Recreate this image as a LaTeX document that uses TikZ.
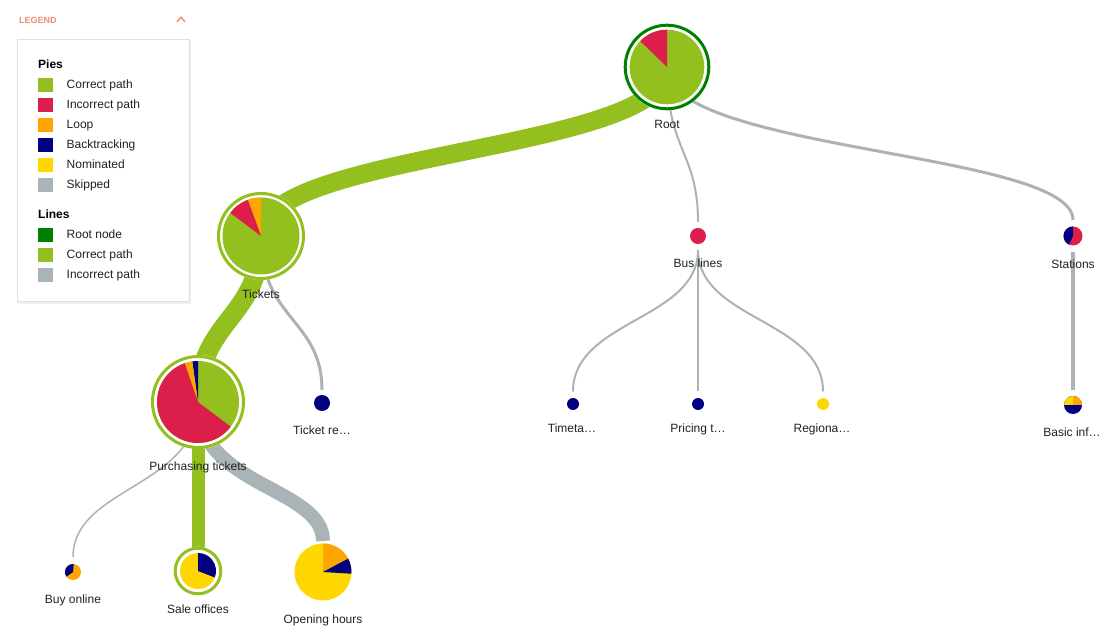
\documentclass[tikz,border=0pt]{standalone}
\usepackage{fontspec}
\setmainfont{Liberation Sans}
\usetikzlibrary{calc}
\definecolor{cgreen}{HTML}{93BF1F}
\definecolor{cred}{HTML}{DC1F4A}
\definecolor{corange}{HTML}{FFA500}
\definecolor{cnavy}{HTML}{000080}
\definecolor{cgold}{HTML}{FFD700}
\definecolor{cgray}{HTML}{AAB3B7}
\definecolor{cdkgreen}{HTML}{008000}
\definecolor{csalmon}{HTML}{EF8C73}
\definecolor{ctext}{HTML}{212121}
\newcommand\pieslice[5]{\fill[#5] (#1.center) -- ++(#3:#2pt) arc[start angle=#3, end angle=#4, radius=#2pt] -- cycle;}
\newcommand\piedisk[3]{\fill[#3] (#1.center) circle[radius=#2pt];}
\tikzset{
  anc/.style={circle, inner sep=0pt, outer sep=0pt, draw=none, minimum size=#1},
  lk/.style={draw=cgray, line width=#1},
  gk/.style={draw=cgreen, line width=#1},
  lbl/.style={font=\fontsize{12}{14}\selectfont, text=ctext, inner sep=0pt, anchor=base},
  lgtext/.style={font=\fontsize{12}{14}\selectfont, text=ctext, inner sep=0pt, anchor=base west},
  lghead/.style={font=\fontsize{12}{14}\selectfont\bfseries, text=black, inner sep=0pt, anchor=base west},
  swatch/.style={minimum width=15pt, minimum height=14pt, inner sep=0pt, draw=none, fill=#1}
}
\begin{document}
\begin{tikzpicture}[x=1pt,y=1pt]
\useasboundingbox (0,0) rectangle (1110,642);
\fill[white] (0,0) rectangle (1110,642);

% ---------- node anchors ----------
\node[anc=2pt] (root) at (667,575) {};
\node[anc=2pt] (tickets) at (261,406) {};
\node[anc=2pt] (purch) at (198,240) {};
\node[anc=26pt] (ticketre) at (322,239) {};
\node[anc=28pt] (bus) at (698,406) {};
\node[anc=32pt] (stations) at (1073,406) {};
\node[anc=25pt] (timeta) at (573,238) {};
\node[anc=25pt] (pricing) at (698,238) {};
\node[anc=25pt] (regiona) at (823,238) {};
\node[anc=30pt] (basic) at (1073,237) {};
\node[anc=30pt] (buy) at (73,70) {};
\node[anc=2pt] (sale) at (198,71) {};
\node[anc=62pt] (opening) at (323,70) {};

% ---------- links ----------
\draw[gk=18.5pt] (root) .. controls (667,490.5) and (261,490.5) .. (tickets);
\draw[lk=2pt] (root) .. controls (667,490.5) and (698,490.5) .. (bus);
\draw[lk=3pt] (root) .. controls (667,490.5) and (1073,490.5) .. (stations);
\draw[gk=19pt] (tickets) .. controls (261,323) and (198,323) .. (purch);
\draw[lk=3pt] (tickets) .. controls (261,322.5) and (322,322.5) .. (ticketre);
\draw[lk=1.5pt] (purch) .. controls (198,155) and (73,155) .. (buy);
\draw[gk=13pt] (purch) -- (sale);
\draw[lk=14pt] (purch) .. controls (198,155) and (323,155) .. (opening);
\draw[lk=2pt] (bus) .. controls (698,322) and (573,322) .. (timeta);
\draw[lk=2pt] (bus) -- (pricing);
\draw[lk=2pt] (bus) .. controls (698,322) and (823,322) .. (regiona);
\draw[lk=3.5pt] (stations) -- (basic);

% ---------- pies ----------
% Root
\piedisk{root}{43.5}{white}
\piedisk{root}{37.3}{cgreen}
\pieslice{root}{37.3}{90}{136}{cred}
\draw[cdkgreen, line width=3pt] (root.center) circle[radius=41.8pt];
% Tickets
\piedisk{tickets}{44}{white}
\piedisk{tickets}{38.5}{cgreen}
\pieslice{tickets}{38.5}{90}{110}{corange}
\pieslice{tickets}{38.5}{110}{143}{cred}
\draw[cgreen, line width=3pt] (tickets.center) circle[radius=42.5pt];
% Purchasing tickets
\piedisk{purch}{47}{white}
\piedisk{purch}{41}{cgreen}
\pieslice{purch}{41}{90}{98}{cnavy}
\pieslice{purch}{41}{98}{109}{corange}
\pieslice{purch}{41}{109}{323}{cred}
\draw[cgreen, line width=3pt] (purch.center) circle[radius=45.5pt];
% Sale offices
\piedisk{sale}{24.3}{white}
\piedisk{sale}{18}{cgold}
\pieslice{sale}{18}{-21}{90}{cnavy}
\draw[cgreen, line width=3pt] (sale.center) circle[radius=22.8pt];
% Opening hours
\piedisk{opening}{28.5}{cgold}
\pieslice{opening}{28.5}{28}{90}{corange}
\pieslice{opening}{28.5}{-3.5}{28}{cnavy}
% Buy online
\piedisk{buy}{8}{corange}
\pieslice{buy}{8}{85}{215}{cnavy}
% Ticket re...
\piedisk{ticketre}{8}{cnavy}
% Bus lines
\piedisk{bus}{8}{cred}
\piedisk{timeta}{6}{cnavy}
\piedisk{pricing}{6}{cnavy}
\piedisk{regiona}{6}{cgold}
% Stations
\piedisk{stations}{9.5}{cred}
\pieslice{stations}{9.5}{90}{245}{cnavy}
% Basic inf...
\piedisk{basic}{9}{cnavy}
\pieslice{basic}{9}{0}{90}{corange}
\pieslice{basic}{9}{90}{180}{cgold}

% ---------- labels ----------
\node[lbl] (lroot) at (667,513.5) {Root};
\node[lbl] (ltickets) at (261,343.5) {Tickets};
\node[lbl] (lpurch) at (198,171.8) {Purchasing tickets};
\node[lbl] (lticketre) at (322,207.5) {Ticket re…};
\node[lbl] (lbus) at (698,374.5) {Bus lines};
\node[lbl] (ltimeta) at (572,209.5) {Timeta…};
\node[lbl] (lpricing) at (698,209.5) {Pricing t…};
\node[lbl] (lregiona) at (822,209.5) {Regiona…};
\node[lbl] (lstations) at (1073,373.5) {Stations};
\node[lbl] (lbasic) at (1072,205.5) {Basic inf…};
\node[lbl] (lbuy) at (73,38.5) {Buy online};
\node[lbl] (lsale) at (198,28.5) {Sale offices};
\node[lbl] (lopening) at (323,18.5) {Opening hours};

% ---------- legend ----------
\node[font=\fontsize{9}{10}\selectfont\bfseries, text=csalmon, inner sep=0pt, anchor=base west] (lgtitle) at (19,618.7) {LEGEND};
\coordinate (car) at (181,624.7);
\draw[csalmon, line width=1.4pt, line join=miter] ($(car)+(-4,-4.5)$) -- (car) -- ($(car)+(4,-4.5)$);
\fill[black!14] (18.3,339.2) rectangle (190.6,601.7);
\fill[black!6] (17.8,338.2) rectangle (191.2,601.7);
\filldraw[fill=white, draw=black!12, line width=0.6pt] (17.3,341) rectangle (189.3,602.7);
\node[lghead] (lgpies) at (38,573.5) {Pies};
\node[swatch=cgreen] (s1) at (45.5,557) {};
\node[lgtext] at (66.5,553) {Correct path};
\node[swatch=cred] (s2) at (45.5,537) {};
\node[lgtext] at (66.5,533) {Incorrect path};
\node[swatch=corange] (s3) at (45.5,517) {};
\node[lgtext] at (66.5,513) {Loop};
\node[swatch=cnavy] (s4) at (45.5,497) {};
\node[lgtext] at (66.5,493) {Backtracking};
\node[swatch=cgold] (s5) at (45.5,477) {};
\node[lgtext] at (66.5,473) {Nominated};
\node[swatch=cgray] (s6) at (45.5,457) {};
\node[lgtext] at (66.5,453) {Skipped};
\node[lghead] (lglines) at (38,423.5) {Lines};
\node[swatch=cdkgreen] (s7) at (45.5,407) {};
\node[lgtext] at (66.5,403) {Root node};
\node[swatch=cgreen] (s8) at (45.5,387) {};
\node[lgtext] at (66.5,383) {Correct path};
\node[swatch=cgray] (s9) at (45.5,367) {};
\node[lgtext] at (66.5,363) {Incorrect path};
\end{tikzpicture}
\end{document}
